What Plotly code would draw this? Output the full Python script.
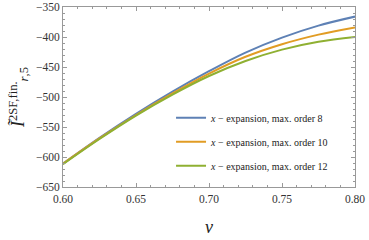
import plotly.graph_objects as go

v = [0.60, 0.625, 0.65, 0.675, 0.70, 0.725, 0.75, 0.775, 0.80]
order8 = [-611, -568, -528, -491, -457, -426, -401, -381, -366]
order10 = [-611, -569, -530, -494, -461, -433, -412, -396, -384]
order12 = [-612, -570, -531, -496, -465, -440, -421, -408, -400]

names = ["<i>x</i> − expansion, max. order 8",
         "<i>x</i> − expansion, max. order 10",
         "<i>x</i> − expansion, max. order 12"]
colors = ["#5E81B5", "#E19C24", "#8FB032"]
series = [order8, order10, order12]

fig = go.Figure()
for i, (ys, nm, c) in enumerate(zip(series, names, colors)):
    fig.add_trace(go.Scatter(x=v, y=ys, mode="lines", name=nm,
                             line=dict(color=c, width=2, shape="spline"),
                             legendgroup=str(i)))

axis_common = dict(showgrid=False, zeroline=False, showline=True, linecolor="#999999",
                   linewidth=1, mirror="allticks", ticks="inside", ticklen=4,
                   tickcolor="#999999", automargin=False, ticklabeloverflow="allow",
                   tickfont=dict(family="Liberation Serif", size=11.5, color="#333333"))

fig.update_xaxes(range=[0.60, 0.80], tick0=0.60, dtick=0.05, tickformat=".2f",
                 minor=dict(dtick=0.01, ticks="inside", ticklen=2, tickcolor="#999999"),
                 title=dict(text="<i>v</i>", font=dict(family="Liberation Serif", size=18, color="#222222"),
                            standoff=16),
                 ticklabelstandoff=1,
                 **axis_common)
fig.update_yaxes(range=[-650, -350], tick0=-650, dtick=50,
                 minor=dict(dtick=10, ticks="inside", ticklen=2, tickcolor="#999999"),
                 title=dict(text="<i>Ĩ</i><sup>2SF,fin.</sup><sub><i>r</i>,5</sub>",
                            font=dict(family="Liberation Serif", size=18, color="#222222"),
                            standoff=6),
                 **axis_common)

fig.update_layout(width=369, height=240,
                  margin=dict(l=63, r=14, t=7, b=53),
                  plot_bgcolor="white", paper_bgcolor="white",
                  legend=dict(x=0.37, y=0.465, xanchor="left", yanchor="top",
                              bgcolor="rgba(0,0,0,0)", tracegroupgap=5,
                              font=dict(family="Liberation Serif", size=10, color="#222222")),
                  showlegend=True)

fig.write_html("out.html", config={"displayModeBar": False},
               post_script="document.body.style.margin='0';")
